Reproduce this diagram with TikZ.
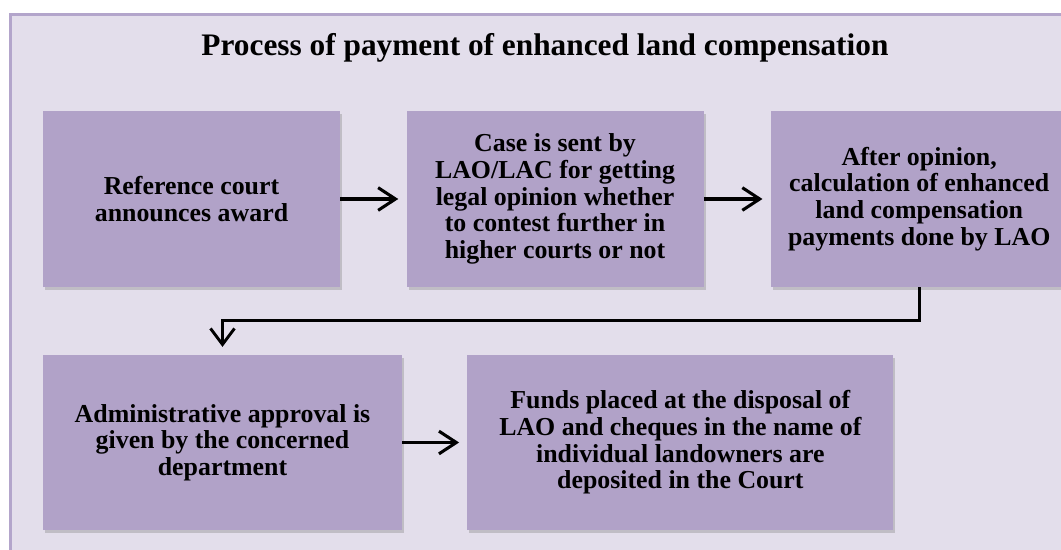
\documentclass[tikz,border=0pt]{standalone}
\usepackage{fontspec}
\setmainfont{Liberation Serif}
\usepackage{tikz}
\usetikzlibrary{arrows.meta, positioning, shadows}
\definecolor{FrameLilac}{HTML}{B3A5CB}
\definecolor{PanelLilac}{HTML}{E3DEEB}
\definecolor{StepLilac}{HTML}{B1A2C8}
\tikzset{
  stepbox/.style={rectangle, draw=none, fill=StepLilac, minimum width=222.75pt, minimum height=132pt, align=center, font=\fontsize{19.4}{20}\selectfont\bfseries, drop shadow={shadow xshift=1.5pt, shadow yshift=-2.2pt, opacity=0.35}},
  widebox/.style={stepbox, minimum width=269pt, minimum height=131pt},
  flowarrow/.style={-{Straight Barb[length=13pt, width=17pt, line width=2.3pt]}, line width=2.4pt, shorten >=6pt},
  elbowarrow/.style={-{Straight Barb[length=12pt, width=18pt, line width=2.2pt]}, line width=2pt, shorten >=6pt},
  titletext/.style={font=\fontsize{23.5}{26}\selectfont\bfseries}
}
\begin{document}
\begin{tikzpicture}[x=0.75pt, y=-0.75pt]
  \useasboundingbox (0,0) rectangle (1061,550);
  \clip (0,0) rectangle (1061,550);
  % Panel
  \draw[draw=FrameLilac, fill=PanelLilac, line width=2.25pt] (10.5,14.5) rectangle (1080,570);
  \node[titletext, anchor=base] (title) at (545,55) {Process of payment of enhanced land compensation};

  % First row
  \node[stepbox] (award) at (191.5,199) {Reference court\\announces award};
  \node[stepbox, right=49.5pt of award] (opinion) {Case is sent by\\LAO/LAC for getting\\legal opinion whether\\to contest further in\\higher courts or not};
  \node[stepbox, right=50pt of opinion] (calc) {After opinion,\\calculation of enhanced\\land compensation\\payments done by LAO};

  % Second row
  \node[widebox] (approval) at (222.5,442.5) {Administrative approval is\\given by the concerned\\department};
  \node[widebox, minimum width=319.5pt, right=48.75pt of approval] (funds) {Funds placed at the disposal of\\LAO and cheques in the name of\\individual landowners are\\deposited in the Court};

  \draw[flowarrow] (award) -- (opinion);
  \draw[flowarrow] (opinion) -- (calc);
  \draw[elbowarrow] (calc.south) -- ++(0,33) -| (approval.north);
  \draw[flowarrow] (approval) -- (funds);
\end{tikzpicture}
\end{document}
